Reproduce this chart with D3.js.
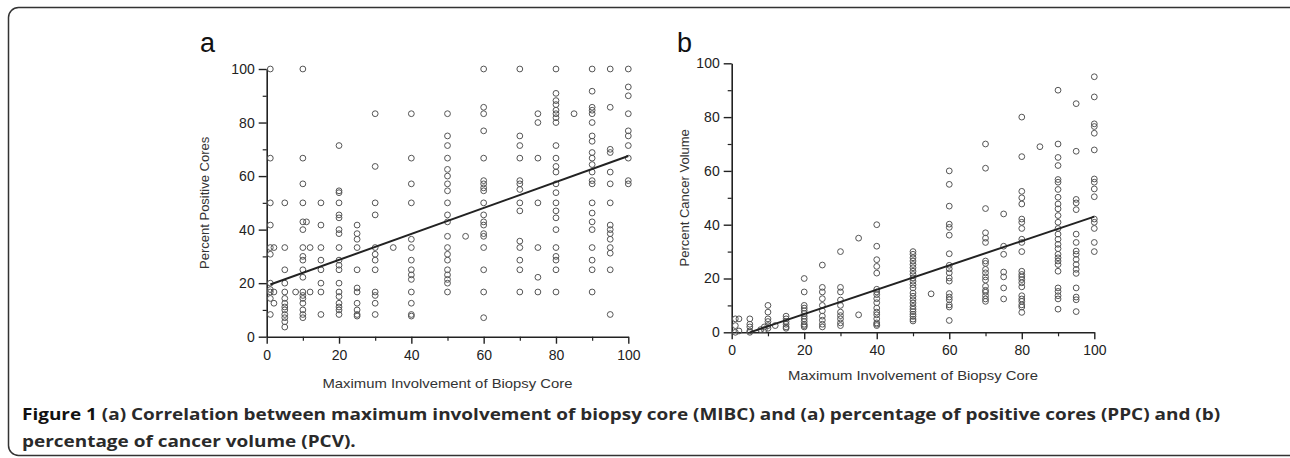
<!DOCTYPE html>
<html>
<head>
<meta charset="utf-8">
<script src="https://cdn.jsdelivr.net/npm/d3@7"></script>
<style>
    body { margin: 0; background: #fff; }
    svg { display: block; font-family: "Liberation Sans", Arial, sans-serif; }
</style>
</head>
<body>
<svg id="chart" width="1290" height="458"></svg>
<script>
// x levels (Maximum Involvement of Biopsy Core) for panel a
const mibcA = [1, 2, 5, 8, 10, 11, 12, 15, 20, 25, 30, 35, 40, 50, 55, 60, 70, 75, 80, 85, 90, 95, 100];
// Percent Positive Cores, one list per x level
const ppcA = [
    [100, 66.7, 50, 41.7, 33.3, 30.8, 20, 17.6, 16.7, 14.3, 8.3],
    [33.3, 16.7, 12.5],
    [50, 33.3, 25, 20, 16.7, 14.3, 12.5, 11.1, 10, 8.3, 7.1, 5.6, 3.6],
    [16.7],
    [100, 66.7, 57.1, 50, 42.9, 40, 33.3, 30, 28.6, 25, 22.2, 16.7, 15.4, 14.3, 12.5, 10, 8.3, 7.1],
    [42.9],
    [33.3, 16.7],
    [50, 41.7, 33.3, 28.6, 25, 20, 16.7, 8.3],
    [71.4, 54.5, 53.8, 50, 45.5, 44.4, 40, 38.5, 33.3, 28.6, 26.7, 25, 20, 16.7, 15, 12.5, 11.1, 10, 8.3],
    [41.7, 38.5, 36.4, 33.3, 25, 18.2, 16.7, 12.5, 10, 8.3, 7.7],
    [83.3, 63.6, 50, 45.5, 33.3, 30.8, 28.6, 25, 16.7, 15.4, 12.5, 8.3],
    [33.3],
    [83.3, 66.7, 57.1, 50, 36.4, 33.3, 28.6, 25, 23.1, 21.4, 16.7, 12.5, 8.3, 7.7],
    [83.3, 75, 71.4, 66.7, 62.5, 60, 57.1, 54.5, 50, 45.5, 42.9, 37.5, 33.3, 30.8, 28.6, 25, 23.1, 21.4, 20, 16.7],
    [37.5],
    [100, 85.7, 83.3, 76.9, 66.7, 58.3, 57.1, 55.6, 54.5, 50, 45.5, 42.9, 41.7, 38.5, 37.5, 33.3, 25, 16.7, 7.1],
    [100, 75, 71.4, 66.7, 58.3, 57.1, 55, 50, 47, 35.7, 33.3, 28.6, 25, 16.7],
    [83.3, 80, 66.7, 50, 33.3, 22.2, 16.7],
    [100, 90.9, 88.2, 86.7, 84.6, 83.3, 81.8, 80, 71.4, 66.7, 63.6, 61.5, 57.1, 53.8, 50, 47, 44.4, 40, 33.3, 30, 28.6, 25, 16.7],
    [83.3],
    [100, 91.7, 85.7, 84.6, 83.3, 80, 75, 73, 68.8, 66.7, 64.3, 61.5, 58.3, 57.1, 50, 46.2, 42.9, 40, 33.3, 28.6, 25, 16.7],
    [100, 85.7, 70, 68.8, 61.5, 57.1, 50, 41.7, 40, 38.5, 36.4, 33.3, 31.2, 25, 8.3],
    [100, 93.3, 90, 83.3, 76.9, 75, 71.4, 66.7, 58.3, 57.1],
];

// x levels for panel b
const mibcB = [1, 2, 5, 8, 9, 10, 12, 15, 20, 25, 30, 35, 40, 50, 55, 60, 70, 75, 80, 85, 90, 95, 100];
// Percent Cancer Volume, one list per x level
const pcvB = [
    [5, 2.5, 0],
    [5, 0.5],
    [5, 3, 2, 0.5, 0],
    [1],
    [2, 1],
    [10, 7.5, 5, 4, 2.5, 1.5],
    [2.5],
    [6, 5, 4, 3, 2, 1.5],
    [20, 15, 10, 9, 8, 7, 6, 5, 4, 3, 2.5, 2],
    [25, 16.7, 15, 12.5, 10, 8, 6, 4.5, 3, 2],
    [30, 16.7, 15, 12, 10, 7.5, 6.2, 5, 3.5, 2.5],
    [35, 6.5],
    [40, 32, 27, 24.5, 22, 16, 15, 14, 12.5, 11, 9, 7.5, 6.5, 5, 3.5, 3, 2.5],
    [30, 29, 27.7, 26.5, 25.2, 24, 22.7, 21.5, 20.2, 19, 17.7, 16.5, 14.6, 13.4, 12.1, 10.9, 9.6, 8.6, 7.7, 6.7, 5.9, 4.9, 4.2],
    [14.3],
    [60, 55, 46.9, 40.2, 39, 36.1, 29.2, 24.9, 23.6, 22.1, 20.2, 19, 14.4, 13.1, 12.1, 10.2, 9.4, 4.4],
    [70, 61, 46, 37, 35, 33.4, 26.5, 25.6, 23.4, 22.1, 20.6, 19.4, 17.1, 15.6, 14.9, 13.6, 12.4, 11.5],
    [44, 32, 29, 22.4, 20.6, 16.5, 12.4],
    [80, 65.3, 52.4, 50, 47.7, 42.1, 40.9, 38.6, 34.6, 33.4, 30, 22.7, 21.5, 20.6, 19.6, 18.4, 16.9, 13.6, 12.4, 11.5, 10.2, 9.4, 7.4],
    [69],
    [90, 70, 65, 62, 56.8, 55.8, 53.1, 50.2, 47.7, 45.9, 43.4, 40.9, 38.6, 36.5, 34.6, 32.7, 31.1, 29, 27.7, 26.5, 25.2, 22.7, 16.5, 15.2, 13.6, 12.4, 8.6],
    [85, 67.3, 49.4, 48.1, 45.6, 36.5, 33.4, 30.2, 29, 27.1, 25.2, 23.4, 21.9, 16.5, 13.1, 12.1, 7.7],
    [95, 87.5, 77.5, 76.5, 74, 67.8, 57, 55.8, 53.3, 50.4, 42.1, 40.9, 38.6, 33.4, 30],
];

// fitted lines: [xStart, xEnd, intercept, slope]
const fitA = [1, 100, 19, 0.485];
const fitB = [5, 100, -2.3, 0.453];

const majorTicks = [0, 20, 40, 60, 80, 100];
const minorTicks = [10, 30, 50, 70, 90];

const captionBold = "Figure 1";
const captionLine1 = " (a) Correlation between maximum involvement of biopsy core (MIBC) and (a) percentage of positive cores (PPC) and (b)";
const captionLine2 = "percentage of cancer volume (PCV).";

const svg = d3.select("#chart");

// rounded frame around the figure
svg.append("rect")
    .attr("x", 8.5)
    .attr("y", 7.5)
    .attr("width", 1300)
    .attr("height", 448)
    .attr("rx", 10)
    .attr("fill", "none")
    .attr("stroke", "#333")
    .attr("stroke-width", 1.5);

const toPoints = (levels, values) =>
    levels.flatMap((x, i) => values[i].map((y) => [x, y]));

const drawPanel = (opts) => {
    const x = d3.scaleLinear().domain([0, 100]).range(opts.xRange);
    const y = d3.scaleLinear().domain([0, 100]).range(opts.yRange);
    const g = svg.append("g");

    // y axis, major then minor ticks
    g.append("g")
        .attr("transform", `translate(${opts.xRange[0]},0)`)
        .call(d3.axisLeft(y).tickValues(majorTicks).tickSize(8).tickSizeOuter(0).tickPadding(4))
        .call((a) => a.select(".domain").attr("stroke-width", 1.6).attr("stroke", "#222"))
        .call((a) => a.selectAll(".tick line").attr("stroke-width", 1.4).attr("stroke", "#222"))
        .call((a) => a.selectAll(".tick text")
            .attr("font-size", 14).attr("fill", "#222")
            .attr("font-family", "Liberation Sans, Arial, sans-serif"));
    g.append("g")
        .attr("transform", `translate(${opts.xRange[0]},0)`)
        .call(d3.axisLeft(y).tickValues(minorTicks).tickSize(4).tickSizeOuter(0).tickFormat(""))
        .call((a) => a.select(".domain").remove())
        .call((a) => a.selectAll(".tick line").attr("stroke-width", 1.2).attr("stroke", "#222"));

    // x axis
    const xAxisY = opts.yRange[0];
    g.append("g")
        .attr("transform", `translate(0,${xAxisY})`)
        .call(d3.axisBottom(x).tickValues(majorTicks).tickSize(7).tickSizeOuter(0).tickPadding(6))
        .call((a) => a.select(".domain").attr("stroke-width", 1.6).attr("stroke", "#222"))
        .call((a) => a.selectAll(".tick line").attr("stroke-width", 1.4).attr("stroke", "#222"))
        .call((a) => a.selectAll(".tick text")
            .attr("font-size", 14).attr("fill", "#222")
            .attr("font-family", "Liberation Sans, Arial, sans-serif"));
    g.append("g")
        .attr("transform", `translate(0,${xAxisY})`)
        .call(d3.axisBottom(x).tickValues(minorTicks).tickSize(4).tickSizeOuter(0).tickFormat(""))
        .call((a) => a.select(".domain").remove())
        .call((a) => a.selectAll(".tick line").attr("stroke-width", 1.2).attr("stroke", "#222"));

    // axis titles
    g.append("text")
        .attr("x", (opts.xRange[0] + opts.xRange[1]) / 2)
        .attr("y", opts.xTitleY)
        .attr("text-anchor", "middle")
        .attr("font-size", 13.5)
        .attr("fill", "#333")
        .attr("textLength", 250)
        .attr("lengthAdjust", "spacingAndGlyphs")
        .text("Maximum Involvement of Biopsy Core");

    g.append("text")
        .attr("transform", `translate(${opts.yTitleX},${(opts.yRange[0] + opts.yRange[1]) / 2}) rotate(-90)`)
        .attr("text-anchor", "middle")
        .attr("font-size", 13)
        .attr("fill", "#333")
        .text(opts.yTitle);

    // panel letter
    g.append("text")
        .attr("x", opts.letterX)
        .attr("y", 52)
        .attr("font-size", 27)
        .attr("fill", "#111")
        .text(opts.letter);

    // points
    g.append("g")
        .selectAll("circle")
        .data(toPoints(opts.levels, opts.values))
        .join("circle")
        .attr("cx", (d) => x(d[0]))
        .attr("cy", (d) => y(d[1]))
        .attr("r", 2.9)
        .attr("fill", "none")
        .attr("stroke", "#555")
        .attr("stroke-width", 1);

    // fit line
    const [x0, x1, b, m] = opts.fit;
    g.append("line")
        .attr("x1", x(x0))
        .attr("y1", y(b + m * x0))
        .attr("x2", x(x1))
        .attr("y2", y(b + m * x1))
        .attr("stroke", "#222")
        .attr("stroke-width", 2);
};

drawPanel({
    xRange: [266.7, 628.3],
    yRange: [336.7, 69],
    levels: mibcA,
    values: ppcA,
    fit: fitA,
    yTitle: "Percent Positive Cores",
    yTitleX: 209,
    xTitleY: 388,
    letter: "a",
    letterX: 200,
});

drawPanel({
    xRange: [731.7, 1094.3],
    yRange: [332.3, 63.3],
    levels: mibcB,
    values: pcvB,
    fit: fitB,
    yTitle: "Percent Cancer Volume",
    yTitleX: 689,
    xTitleY: 380,
    letter: "b",
    letterX: 677,
});

// caption, squeezed to the width of the original condensed font
const cap = svg.append("g").attr("font-family", "'Open Sans', 'Liberation Sans', sans-serif")
    .attr("font-weight", "bold").attr("font-size", 16).attr("fill", "#2a2a2a");
const t1 = cap.append("text").attr("x", 0).attr("y", 0);
t1.append("tspan").attr("fill", "#111").text(captionBold);
t1.append("tspan").text(captionLine1);
cap.append("text").attr("x", 0).attr("y", 27).text(captionLine2);

const natural = t1.node().getComputedTextLength();
const sx = (1221 - 22) / natural;
cap.attr("transform", `translate(22,420) scale(${sx},1)`);
</script>
</body>
</html>
